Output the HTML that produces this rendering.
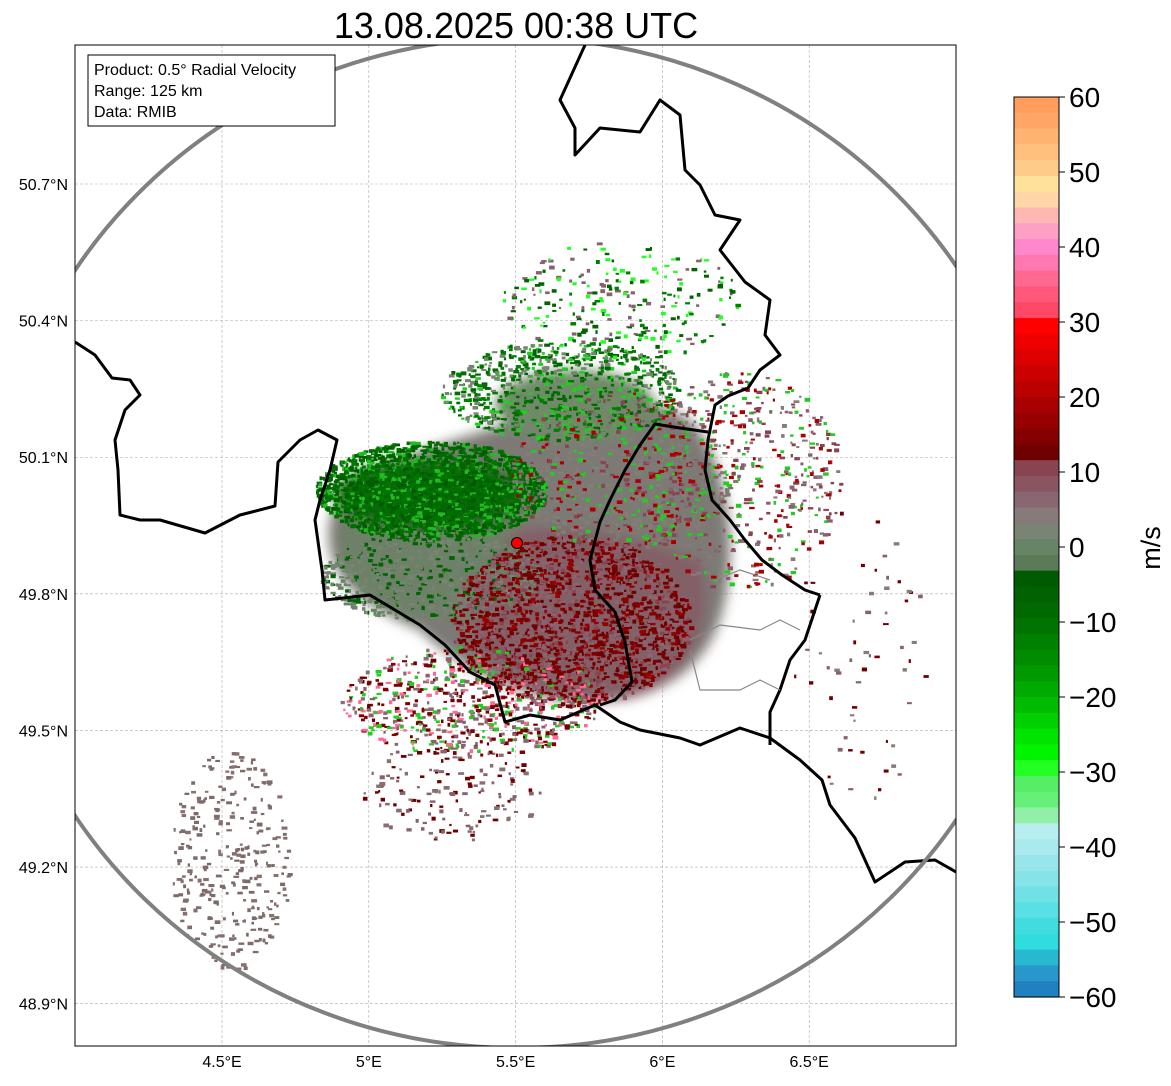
<!DOCTYPE html>
<html><head><meta charset="utf-8">
<style>
html,body{margin:0;padding:0;background:#fff;}
body{width:1171px;height:1081px;overflow:hidden;font-family:"Liberation Sans",sans-serif;}
svg text{font-family:"Liberation Sans",sans-serif;}
</style></head>
<body>
<svg id="main" width="1171" height="1081" viewBox="0 0 1171 1081" xmlns="http://www.w3.org/2000/svg">
<defs>
<clipPath id="mapclip"><rect x="75" y="45" width="881" height="1001"/></clipPath>
<filter id="blur8" x="-50%" y="-50%" width="200%" height="200%"><feGaussianBlur stdDeviation="6"/></filter>
</defs>
<text x="516" y="38" font-size="36" text-anchor="middle" fill="#000">13.08.2025 00:38 UTC</text>
<g id="map" clip-path="url(#mapclip)">
<rect x="75" y="45" width="881" height="1001" fill="#fff"/>
<g id="grid"></g>
<g id="blobs" filter="url(#blur8)">
 <path d="M330,520 C340,470 420,450 520,420 C580,390 640,390 690,420 C730,460 740,560 720,620 C700,680 640,710 560,700 C500,690 450,660 420,630 C370,610 320,580 330,520 Z" fill="#7d7a76"/>
 <path d="M340,520 C370,480 460,470 517,520 C500,560 470,600 420,620 C370,610 330,580 340,520 Z" fill="#6e8068"/>
 <path d="M517,530 C580,520 640,540 700,560 C720,620 690,690 620,700 C560,705 480,680 470,630 C480,580 500,550 517,530 Z" fill="#835f66"/>
 <ellipse cx="430" cy="495" rx="95" ry="36" fill="#086808"/>
 <ellipse cx="575" cy="405" rx="80" ry="35" fill="#6f8a68"/>
</g>
<g id="speckles"></g>
<g id="borders" fill="none" stroke-linejoin="round"></g>
<ellipse cx="517" cy="543" rx="525" ry="505" fill="none" stroke="#808080" stroke-width="4"/>
<circle cx="517" cy="543" r="5.5" fill="#ff0000" stroke="#000" stroke-width="1"/>
</g>
<rect x="75" y="45" width="881" height="1001" fill="none" stroke="#000" stroke-width="1"/>
<g>
<rect x="88" y="55" width="247" height="71" fill="#fff" stroke="#000" stroke-width="1"/>
<text x="94" y="75" font-size="16">Product: 0.5° Radial Velocity</text>
<text x="94" y="96" font-size="16">Range: 125 km</text>
<text x="94" y="117" font-size="16">Data: RMIB</text>
</g>
<g id="axes"></g>
<g id="cbar"></g>
<text transform="translate(1160,548) rotate(-90)" font-size="27" text-anchor="middle">m/s</text>
</svg>
<script>
const NS="http://www.w3.org/2000/svg";
const lonTicks=[4.5,5,5.5,6,6.5];
const latTicks=[50.7,50.4,50.1,49.8,49.5,49.2,48.9];
const cbTicks=[60,50,40,30,20,10,0,-10,-20,-30,-40,-50,-60];
const cbColors=[
"#ff9e5c","#ffa766","#ffb472","#ffc07e","#ffcb88","#ffe19a","#ffd6a8","#ffb7b4","#ff9fc6","#ff88cc","#ff78b0","#ff6890","#ff587a","#ff4866",
"#ff0000","#ee0000","#dd0000","#cc0000","#bb0000","#a80000","#960000","#840000","#700000",
"#884450","#885560","#886672","#887a7a","#7a8474","#688466","#5a7a58",
"#005a00","#006200","#006a00","#007400","#008000","#008c00","#009a00","#00aa00","#00bc00","#00d000","#00e400","#00f400",
"#22ff22","#55ee66","#66f07a","#90f0a8","#b8eef0","#aaeaee","#98e6ea","#84e4e8","#70e2e6","#58e0e4","#40dde0","#30dcde",
"#28b8d0","#2898cc","#2080c0"];
const x=l=>222+(l-4.5)*293.6;
const y=b=>184+(50.7-b)*455.4;
const cbY=v=>97+(60-v)*7.5;
function el(t,a,p){const e=document.createElementNS(NS,t);for(const k in a)e.setAttribute(k,a[k]);(p||document.getElementById('main')).appendChild(e);return e;}
const grid=document.getElementById('grid'),axes=document.getElementById('axes');
lonTicks.forEach(l=>{
 const g=el('line',{x1:x(l),x2:x(l),y1:45,y2:1046,stroke:'#aaa','stroke-width':0.6,'stroke-dasharray':'3,2'},grid);
 
 
 const t=el('text',{x:x(l),y:1067,'font-size':16,'text-anchor':'middle'},axes);t.textContent=l+'°E';
 
 
});
latTicks.forEach(b=>{
 const g=el('line',{x1:75,x2:956,y1:y(b),y2:y(b),stroke:'#aaa','stroke-width':0.6,'stroke-dasharray':'3,2'},grid);
 
 
 const t=el('text',{x:68,y:y(b)+6,'font-size':16,'text-anchor':'end'},axes);t.textContent=b.toFixed(1)+'°N';
 
 
});
const cb=document.getElementById('cbar');
cbColors.forEach((c,i)=>{const v=60-i*(120/cbColors.length);
 const r=el('rect',{x:1014,y:cbY(v),width:45,height:7.5*120/cbColors.length+0.6,fill:c},cb);
 
 
});
el('rect',{x:1014,y:97,width:45,height:900,fill:'none',stroke:'#000','stroke-width':1},cb);
cbTicks.forEach(v=>{
 el('line',{x1:1059,x2:1065,y1:cbY(v),y2:cbY(v),stroke:'#000'},cb);
 const t=el('text',{x:1069,y:cbY(v)+10,'font-size':28},cb);t.textContent=(v<0?'\u2212'+(-v):v);
 
 
});
const B=document.getElementById('borders');
const thick=[
[[75,342],[95,355],[112,378],[130,380],[140,395],[125,410],[115,440],[118,470],[120,515],[140,520],[160,520],[205,533],[240,515],[275,506],[278,462],[300,440],[318,430],[337,440],[330,470],[320,500],[315,520],[322,570],[325,600],[370,595],[395,610],[420,625],[445,645],[470,672],[495,685],[505,722],[530,715],[560,720],[595,705],[620,722],[640,730],[680,738],[700,745],[740,728],[770,738],[800,760],[822,780],[830,805],[855,838],[875,882],[905,862],[935,860],[956,872]],
[[585,45],[560,100],[575,128],[575,155],[600,128],[640,132],[660,100],[680,115],[685,170],[700,185],[715,215],[740,220],[720,250],[745,282],[770,300],[765,335],[780,355],[760,370],[748,388],[728,396],[715,405],[708,440],[705,470],[712,500],[730,520],[745,540],[762,560],[782,575],[805,590],[820,595]],
[[820,595],[805,640],[790,660],[780,690],[770,712],[770,745]],
[[708,432],[680,428],[655,424],[640,445],[625,470],[610,500],[600,522],[590,560],[595,590],[615,612],[625,642],[632,682],[615,700],[600,705]]
];
thick.forEach(p=>{const e=el('polyline',{points:p.join(' '),stroke:'#000','stroke-width':3},B);
 
 });
const thin=[[[690,640],[720,625],[760,630],[780,620],[800,630]],[[690,650],[700,690],[740,690],[760,680],[780,690]],[[715,580],[740,570],[770,580]]];
thin.forEach(p=>{const e=el('polyline',{points:p.join(' '),stroke:'#888','stroke-width':1.2},B);
 
 });
let s=12345;const rnd=()=>(s=(s*1103515245+12345)%2147483648)/2147483648;
const S=document.getElementById('speckles');
const regions=[
 {cx:430,cy:490,rx:115,ry:50,n:2200,cols:['#006400','#007000','#005a00','#007800','#006a00','#22bb22']},
 {cx:560,cy:390,rx:120,ry:50,n:900,cols:['#006400','#007000','#008000','#22cc22','#7a8474','#6f8a68']},
 {cx:620,cy:470,rx:110,ry:80,n:700,cols:['#887a7a','#7a7a72','#aa0000','#884450','#22cc22','#7a8474']},
 {cx:430,cy:575,rx:110,ry:45,n:900,cols:['#6e8068','#7a8474','#688466','#72806e','#006400']},
 {cx:570,cy:620,rx:120,ry:85,n:2200,cols:['#700000','#840000','#884450','#886070','#886672','#960000','#700000']},
 {cx:470,cy:700,rx:130,ry:55,n:700,cols:['#886070','#840000','#22cc22','#700000','#887070','#ff6890']},
 {cx:740,cy:480,rx:100,ry:110,n:500,cols:['#886070','#aa0000','#884450','#22cc22','#887a7a']},
 {cx:230,cy:860,rx:60,ry:110,n:300,cols:['#7a6a6a','#887070','#806a6a']},
 {cx:620,cy:300,rx:120,ry:60,n:250,cols:['#006400','#008000','#886070','#22ff22']},
 {cx:450,cy:790,rx:90,ry:50,n:150,cols:['#886070','#700000','#887070']},
 {cx:860,cy:650,rx:70,ry:150,n:60,cols:['#886070','#887a7a','#700000']}
];
regions.forEach(r=>{for(let i=0;i<r.n;i++){const a=rnd()*6.283,d=Math.sqrt(rnd());
 const px=r.cx+Math.cos(a)*d*r.rx,py=r.cy+Math.sin(a)*d*r.ry;
 el('rect',{x:px.toFixed(1),y:py.toFixed(1),width:(2+rnd()*4).toFixed(1),height:(2+rnd()*2).toFixed(1),fill:r.cols[Math.floor(rnd()*r.cols.length)]},S);}});
</script>
</body></html>
